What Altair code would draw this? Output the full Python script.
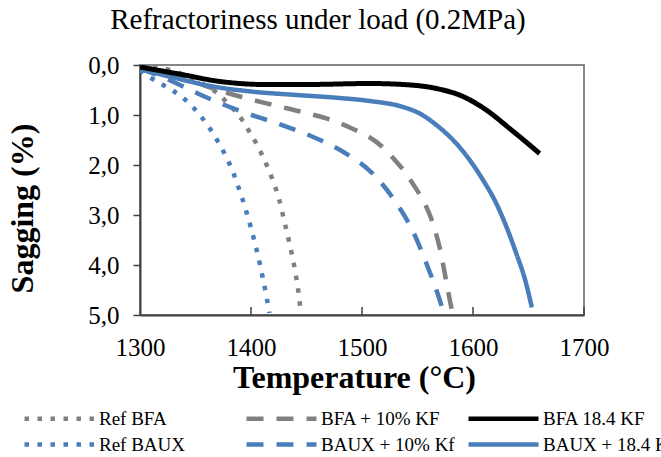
import altair as alt
import pandas as pd

# ---- data ----
series_names = ["Ref BFA", "BFA + 10% KF", "BFA 18.4 KF",
                "Ref BAUX", "BAUX + 10% Kf", "BAUX + 18.4 KF"]
series_colors = ["#808080", "#808080", "#000000",
                 "#4a7ebb", "#4a7ebb", "#4a7ebb"]
series_dashes = [[4.5, 8.5], [17, 13], [1, 0],
                 [4.5, 8.5], [17, 13], [1, 0]]

ref_bfa_t = [1300, 1315, 1327, 1338, 1350, 1360, 1369, 1378, 1386, 1393, 1399, 1405,
             1410, 1415, 1420, 1425, 1430, 1434, 1437, 1440, 1442.5, 1444.5]
ref_bfa_s = [0.0, 0.04, 0.10, 0.18, 0.30, 0.42, 0.55, 0.74, 0.93, 1.13, 1.35, 1.58,
             1.80, 2.05, 2.33, 2.66, 3.12, 3.50, 3.80, 4.15, 4.50, 4.88]

bfa10_t = [1300, 1340, 1370, 1390, 1420, 1450, 1475, 1491, 1505, 1518, 1528, 1539,
           1548, 1556, 1562, 1567, 1571, 1574, 1577, 1580, 1581]
bfa10_s = [0.02, 0.27, 0.50, 0.63, 0.80, 0.96, 1.12, 1.27, 1.42, 1.63, 1.86, 2.15,
           2.45, 2.75, 3.05, 3.40, 3.75, 4.10, 4.45, 4.80, 4.90]

bfa184_t = [1300, 1320, 1340, 1369, 1390, 1411, 1450, 1507, 1537, 1567, 1591, 1612,
            1633, 1651, 1660]
bfa184_s = [0.04, 0.12, 0.20, 0.32, 0.37, 0.39, 0.39, 0.37, 0.39, 0.47, 0.63, 0.90,
            1.27, 1.60, 1.77]

ref_baux_t = [1300, 1310, 1320, 1330, 1340, 1348, 1355, 1362, 1368, 1374, 1379, 1384,
              1388, 1392, 1396, 1400, 1404, 1408, 1411, 1414, 1416.5]
ref_baux_s = [0.10, 0.26, 0.39, 0.52, 0.68, 0.85, 1.03, 1.24, 1.45, 1.68, 1.90, 2.15,
              2.40, 2.66, 2.95, 3.26, 3.60, 3.98, 4.30, 4.64, 4.96]

baux10_t = [1300, 1320, 1336, 1355, 1389, 1425, 1455, 1484, 1510, 1530, 1546, 1558,
            1569, 1572]
baux10_s = [0.08, 0.24, 0.40, 0.60, 0.91, 1.18, 1.43, 1.75, 2.18, 2.73, 3.33, 3.97,
            4.63, 4.84]

baux184_t = [1300, 1330, 1366, 1400, 1441, 1480, 1507, 1537, 1552, 1567, 1582, 1597,
             1609, 1621, 1630, 1639, 1647, 1653]
baux184_s = [0.08, 0.25, 0.43, 0.53, 0.60, 0.66, 0.72, 0.84, 0.97, 1.20, 1.50, 1.90,
             2.30, 2.77, 3.23, 3.77, 4.30, 4.85]

x_ticks = [1300, 1400, 1500, 1600, 1700]
y_ticks = [0, 1, 2, 3, 4, 5]

FONT = "Liberation Serif"
W, H = 444, 250

series_data = {
    "Ref BFA": (ref_bfa_t, ref_bfa_s),
    "BFA + 10% KF": (bfa10_t, bfa10_s),
    "BFA 18.4 KF": (bfa184_t, bfa184_s),
    "Ref BAUX": (ref_baux_t, ref_baux_s),
    "BAUX + 10% Kf": (baux10_t, baux10_s),
    "BAUX + 18.4 KF": (baux184_t, baux184_s),
}

x_enc = alt.X("t:Q",
              scale=alt.Scale(domain=[1300, 1700], nice=False, zero=False),
              axis=alt.Axis(values=x_ticks, ticks=False, grid=False, labelFlush=False,
                            domainColor="#404040", domainWidth=2,
                            labelFont=FONT, labelFontSize=25, labelColor="black",
                            labelBaseline="alphabetic", labelPadding=40, format="d",
                            title="Temperature (°C)", titleFont=FONT, titleFontSize=32,
                            titleFontWeight="bold", titleColor="black",
                            titleX=214, titleY=72, titleBaseline="alphabetic",
                            titleAlign="center"))
y_enc = alt.Y("s:Q",
              scale=alt.Scale(domain=[0, 5], reverse=True, nice=False, zero=False),
              axis=alt.Axis(values=y_ticks, grid=False, tickSize=7, tickColor="#404040",
                            tickWidth=1.5, domainColor="#404040", domainWidth=2,
                            labelExpr="replace(format(datum.value, '.1f'), '.', ',')",
                            labelFont=FONT, labelFontSize=25, labelColor="black",
                            labelPadding=14,
                            title="Sagging (%)", titleFont=FONT, titleFontSize=32,
                            titleFontWeight="bold", titleColor="black",
                            titleX=-118, titleY=143, titleBaseline="middle",
                            titleAlign="center", titleAngle=270))

legend = alt.Legend(title=None, orient="none", legendX=-118, legendY=343,
                    direction="horizontal", columns=3, gridAlign="all",
                    symbolType="M-1,0H7.75", symbolSize=256, symbolStrokeWidth=4.5,
                    labelFont=FONT, labelFontSize=19, labelColor="black",
                    labelOffset=56, columnPadding=1, rowPadding=5, padding=0)

color_enc = alt.Color("name:N",
                      scale=alt.Scale(domain=series_names, range=series_colors),
                      legend=legend)
dash_enc = alt.StrokeDash("name:N",
                          scale=alt.Scale(domain=series_names, range=series_dashes),
                          legend=legend)

layers = []
draw_order = ["Ref BFA", "Ref BAUX", "BFA + 10% KF", "BAUX + 10% Kf",
              "BAUX + 18.4 KF", "BFA 18.4 KF"]
for name in draw_order:
    t, s = series_data[name]
    df = pd.DataFrame({"t": t, "s": s, "name": name})
    sw = 5 if name == "BFA 18.4 KF" else 4.5
    layers.append(
        alt.Chart(df).mark_line(interpolate="monotone", strokeWidth=sw, clip=True)
        .encode(x=x_enc, y=y_enc, color=color_enc, strokeDash=dash_enc)
    )

ticks_df = pd.DataFrame({"t": x_ticks[1:]})
tick_layer = alt.Chart(ticks_df).mark_rule(color="#404040", strokeWidth=1.5).encode(
    x=alt.X("t:Q"), y=alt.value(H), y2=alt.value(H - 8))

chart = alt.layer(*layers, tick_layer).properties(
    width=W, height=H,
    title=alt.TitleParams("Refractoriness under load (0.2MPa)", font=FONT, fontSize=29,
                          fontWeight="normal", color="black", anchor="middle",
                          dx=-44, offset=18),
    autosize=alt.AutoSizeParams(type="none"),
    padding={"left": 140, "top": 65, "right": 77, "bottom": 142},
).configure_view(stroke="#868686", strokeWidth=2)

chart.save("out.html", embed_options={"renderer": "svg", "actions": False})
